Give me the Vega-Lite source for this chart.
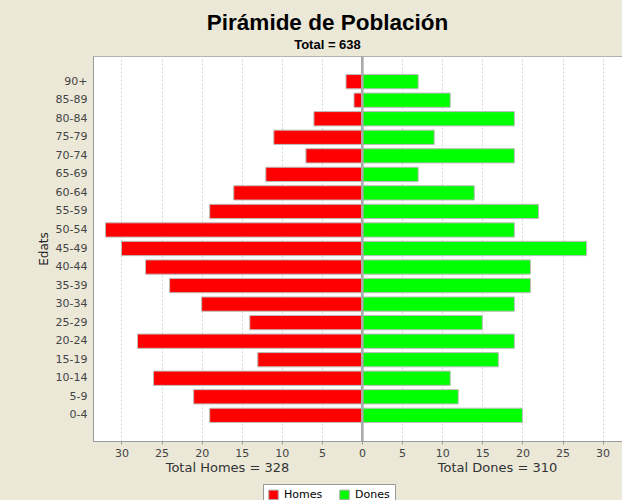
{
  "$schema": "https://vega.github.io/schema/vega-lite/v6.json",
  "autosize": {"type": "none"},
  "width": 529,
  "height": 385,
  "padding": {"left": 93, "top": 56, "right": 0, "bottom": 59},
  "background": "#EBE8D8",
  "title": {
    "text": "Pirámide de Población",
    "subtitle": "Total = 638",
    "anchor": "middle",
    "dx": -30,
    "font": "Liberation Sans",
    "fontSize": 22.5,
    "fontWeight": "bold",
    "color": "#000000",
    "subtitleFont": "Liberation Sans",
    "subtitleFontSize": 13,
    "subtitleFontWeight": "bold",
    "subtitleColor": "#000000",
    "offset": 3,
    "subtitlePadding": 5
  },
  "data": {
    "values": [
      {"edat": "90+", "sexe": "Homes", "n": -2}, {"edat": "90+", "sexe": "Dones", "n": 7},
      {"edat": "85-89", "sexe": "Homes", "n": -1}, {"edat": "85-89", "sexe": "Dones", "n": 11},
      {"edat": "80-84", "sexe": "Homes", "n": -6}, {"edat": "80-84", "sexe": "Dones", "n": 19},
      {"edat": "75-79", "sexe": "Homes", "n": -11}, {"edat": "75-79", "sexe": "Dones", "n": 9},
      {"edat": "70-74", "sexe": "Homes", "n": -7}, {"edat": "70-74", "sexe": "Dones", "n": 19},
      {"edat": "65-69", "sexe": "Homes", "n": -12}, {"edat": "65-69", "sexe": "Dones", "n": 7},
      {"edat": "60-64", "sexe": "Homes", "n": -16}, {"edat": "60-64", "sexe": "Dones", "n": 14},
      {"edat": "55-59", "sexe": "Homes", "n": -19}, {"edat": "55-59", "sexe": "Dones", "n": 22},
      {"edat": "50-54", "sexe": "Homes", "n": -32}, {"edat": "50-54", "sexe": "Dones", "n": 19},
      {"edat": "45-49", "sexe": "Homes", "n": -30}, {"edat": "45-49", "sexe": "Dones", "n": 28},
      {"edat": "40-44", "sexe": "Homes", "n": -27}, {"edat": "40-44", "sexe": "Dones", "n": 21},
      {"edat": "35-39", "sexe": "Homes", "n": -24}, {"edat": "35-39", "sexe": "Dones", "n": 21},
      {"edat": "30-34", "sexe": "Homes", "n": -20}, {"edat": "30-34", "sexe": "Dones", "n": 19},
      {"edat": "25-29", "sexe": "Homes", "n": -14}, {"edat": "25-29", "sexe": "Dones", "n": 15},
      {"edat": "20-24", "sexe": "Homes", "n": -28}, {"edat": "20-24", "sexe": "Dones", "n": 19},
      {"edat": "15-19", "sexe": "Homes", "n": -13}, {"edat": "15-19", "sexe": "Dones", "n": 17},
      {"edat": "10-14", "sexe": "Homes", "n": -26}, {"edat": "10-14", "sexe": "Dones", "n": 11},
      {"edat": "5-9", "sexe": "Homes", "n": -21}, {"edat": "5-9", "sexe": "Dones", "n": 12},
      {"edat": "0-4", "sexe": "Homes", "n": -19}, {"edat": "0-4", "sexe": "Dones", "n": 20}
    ]
  },
  "layer": [
    {
      "mark": {"type": "bar", "stroke": "#bdbdbd", "strokeWidth": 1},
      "encoding": {
        "y": {
          "field": "edat",
          "type": "nominal",
          "sort": ["90+", "85-89", "80-84", "75-79", "70-74", "65-69", "60-64", "55-59", "50-54", "45-49", "40-44", "35-39", "30-34", "25-29", "20-24", "15-19", "10-14", "5-9", "0-4"],
          "scale": {"paddingInner": 0.23, "paddingOuter": 1.02},
          "axis": {
            "title": "Edats",
            "titleFont": "DejaVu Sans",
            "titleFontSize": 12,
            "titleFontWeight": "normal",
            "titleColor": "#222222",
            "titlePadding": 5,
            "labelFont": "DejaVu Sans",
            "labelFontSize": 11,
            "labelColor": "#444444",
            "labelPadding": 6,
            "ticks": false,
            "domain": true,
            "domainColor": "#999999",
            "grid": false
          }
        },
        "x": {
          "field": "n",
          "type": "quantitative",
          "scale": {"domain": [-33.55, 32.42], "nice": false, "zero": false},
          "axis": {
            "values": [-30, -25, -20, -15, -10, -5, 0, 5, 10, 15, 20, 25, 30],
            "labelExpr": "abs(datum.value)",
            "labelFont": "DejaVu Sans",
            "labelFontSize": 11,
            "labelColor": "#444444",
            "labelPadding": 3,
            "tickSize": 3,
            "tickColor": "#999999",
            "domainColor": "#999999",
            "grid": true,
            "gridColor": "#d4d4d4",
            "gridDash": [2, 2],
            "title": "Total Homes = 328",
            "titleFont": "DejaVu Sans",
            "titleFontSize": 13,
            "titleFontWeight": "normal",
            "titleColor": "#333333",
            "titleX": 134,
            "titleY": 26,
            "titleAlign": "center",
            "titleBaseline": "middle",
            "orient": "bottom"
          }
        },
        "color": {
          "field": "sexe",
          "type": "nominal",
          "scale": {"domain": ["Homes", "Dones"], "range": ["#FF0000", "#00FF00"]},
          "legend": {
            "title": null,
            "orient": "none",
            "direction": "horizontal",
            "legendX": 170,
            "legendY": 428,
            "fillColor": "#ffffff",
            "strokeColor": "#999999",
            "padding": 5,
            "symbolType": "square",
            "symbolSize": 90,
            "symbolStrokeColor": "#aaaaaa",
            "symbolStrokeWidth": 1,
            "symbolOpacity": 1,
            "labelFont": "DejaVu Sans",
            "labelFontSize": 11,
            "labelColor": "#000000",
            "labelOffset": 5,
            "columnPadding": 14
          }
        }
      }
    },
    {
      "mark": {"type": "rule", "color": "#aaaaaa", "strokeWidth": 2},
      "encoding": {
        "x": {
          "datum": 0,
          "type": "quantitative",
          "axis": {
            "orient": "bottom",
            "domain": false,
            "ticks": false,
            "labels": false,
            "grid": false,
            "title": "Total Dones = 310",
            "titleFont": "DejaVu Sans",
            "titleFontSize": 13,
            "titleFontWeight": "normal",
            "titleColor": "#333333",
            "titleX": 404,
            "titleY": 26,
            "titleAlign": "center",
            "titleBaseline": "middle"
          }
        }
      }
    }
  ],
  "resolve": {"axis": {"x": "independent"}},
  "config": {
    "view": {"stroke": "#b0b0b0", "fill": "#ffffff"}
  }
}
